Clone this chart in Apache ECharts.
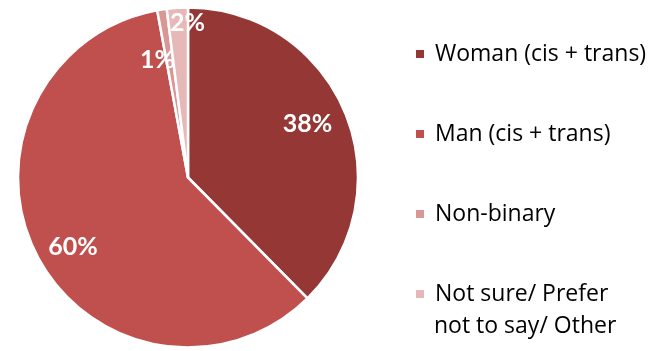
<!DOCTYPE html>
<html>
<head>
<meta charset="utf-8">
<script src="https://cdn.jsdelivr.net/npm/echarts@6/dist/echarts.min.js"></script>
<style>
  html, body { margin: 0; padding: 0; background: #fff; }
  #chart { width: 657px; height: 351px; }
</style>
</head>
<body>
<div id="chart"></div>
<script>
const categories = ["Woman (cis + trans)", "Man (cis + trans)", "Non-binary", "Not sure/ Prefer\nnot to say/ Other"];
const shares = [37.6, 59.5, 0.9, 2.0];
const colors = ["#953735", "#C0504D", "#D99694", "#E6B9B8"];

// nudges for the inside labels (default sits at half the radius)
const labelNudge = [[38, -20], [-37, 29], [-17, -31], [5, -67]];

const legendFont = { fontFamily: "Open Sans", fontSize: 23, color: "#000" };

const chart = echarts.init(document.getElementById("chart"));

// the legend draws only the first line of a wrapped name, the rest goes underneath as plain text
const lastName = categories[categories.length - 1].split("\n");

const option = {
  animation: false,
  legend: {
    orient: "vertical",
    left: 414,
    top: 38,
    height: 420,
    padding: 0,
    itemWidth: 10,
    itemHeight: 10,
    itemGap: 48,
    icon: "rect",
    formatter: (name) => name.split("\n")[0],
    textStyle: Object.assign({ lineHeight: 32, padding: [0, 0, 0, 5] }, legendFont),
    data: categories
  },
  graphic: [
    {
      type: "text",
      left: 434,
      top: 315,
      style: Object.assign({ text: lastName.slice(1).join("\n") }, legendFont)
    }
  ],
  series: [
    {
      type: "pie",
      center: [188, 177.5],
      radius: [0, 170],
      startAngle: 90,
      clockwise: true,
      itemStyle: { borderColor: "#fff", borderWidth: 2.5 },
      label: {
        show: true,
        position: "inside",
        color: "#fff",
        fontFamily: "Lato",
        fontWeight: "bold",
        fontSize: 25,
        formatter: (p) => Math.round(p.value) + "%"
      },
      labelLayout: (p) => ({ dx: labelNudge[p.dataIndex][0], dy: labelNudge[p.dataIndex][1] }),
      emphasis: { disabled: true },
      data: categories.map((name, i) => ({
        name: name,
        value: shares[i],
        itemStyle: { color: colors[i] }
      }))
    }
  ]
};

chart.setOption(option);
</script>
</body>
</html>
